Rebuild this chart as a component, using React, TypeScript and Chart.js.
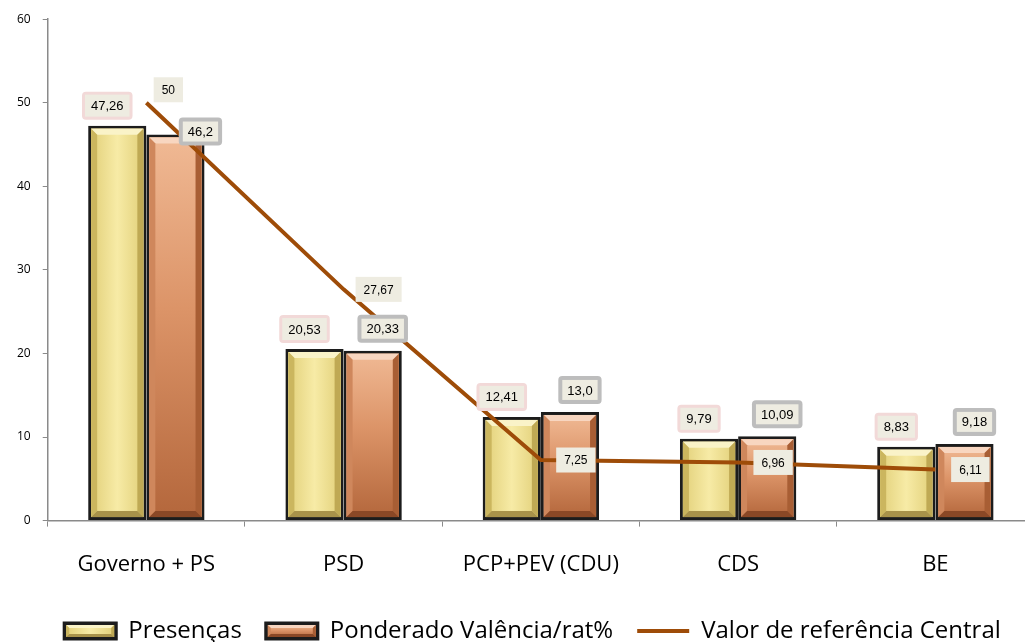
import React, { useEffect, useRef } from "react";
import { Chart, registerables } from "chart.js";

Chart.register(...registerables);

const categories = ["Governo + PS", "PSD", "PCP+PEV (CDU)", "CDS", "BE"];
const presencas = [47.26, 20.53, 12.41, 9.79, 8.83];
const ponderado = [46.2, 20.33, 13.0, 10.09, 9.18];
const referencia = [50, 27.67, 7.25, 6.96, 6.11];
const presencasLabels = ["47,26", "20,53", "12,41", "9,79", "8,83"];
const ponderadoLabels = ["46,2", "20,33", "13,0", "10,09", "9,18"];
const referenciaLabels = ["50", "27,67", "7,25", "6,96", "6,11"];
const seriesNames = ["Presenças", "Ponderado Valência/rat%", "Valor de referência Central"];

// small nudges (px) for labels that the original moved to avoid collisions: key "dataset-index"
const labelNudges: Record<string, [number, number]> = { "1-0": [15, 19], "2-0": [-13, -13] };

type Bevel = { face: (ctx: CanvasRenderingContext2D, l: number, t: number, r: number, b: number) => CanvasGradient | string; top: string; left: string; right: string; bottom: string };

const bevels: Bevel[] = [
  {
    face: (ctx, l, t, r) => {
      const g = ctx.createLinearGradient(l, 0, r, 0);
      g.addColorStop(0, "#e2d07a");
      g.addColorStop(0.5, "#f7eba6");
      g.addColorStop(1, "#e2d07a");
      return g;
    },
    top: "#faf3c8",
    left: "#cbb65e",
    right: "#bfa954",
    bottom: "#a8924a",
  },
  {
    face: (ctx, l, t, r, b) => {
      const g = ctx.createLinearGradient(0, t, 0, b);
      g.addColorStop(0, "#f0b994");
      g.addColorStop(0.45, "#dc9468");
      g.addColorStop(1, "#b4673c");
      return g;
    },
    top: "#f8d6c0",
    left: "#cf875c",
    right: "#a85e34",
    bottom: "#8a4826",
  },
];

function drawBevel(ctx: CanvasRenderingContext2D, bv: Bevel, l: number, t: number, r: number, b: number, dMax: number) {
  const d = Math.min(dMax, (b - t) / 3);
  ctx.fillStyle = bv.face(ctx, l, t, r, b);
  ctx.fillRect(l, t, r - l, b - t);
  const poly = (pts: number[][], c: string) => {
    ctx.beginPath();
    ctx.moveTo(pts[0][0], pts[0][1]);
    for (let i = 1; i < pts.length; i++) ctx.lineTo(pts[i][0], pts[i][1]);
    ctx.closePath();
    ctx.fillStyle = c;
    ctx.fill();
  };
  poly([[l, t], [r, t], [r - d, t + d], [l + d, t + d]], bv.top);
  poly([[l, t], [l + d, t + d], [l + d, b - d], [l, b]], bv.left);
  poly([[r, t], [r, b], [r - d, b - d], [r - d, t + d]], bv.right);
  poly([[l, b], [l + d, b - d], [r - d, b - d], [r, b]], bv.bottom);
}

const barDecor = {
  id: "barDecor",
  afterLayout(chart: any) {
    const lg = chart.legend;
    if (lg) {
      lg.left += 13;
      lg.right += 13;
    }
  },
  afterDatasetDraw(chart: any, args: any) {
    const idx = args.index;
    if (idx > 1) return;
    const bv = bevels[idx];
    const ctx: CanvasRenderingContext2D = chart.ctx;
    const bw = 3;
    args.meta.data.forEach((el: any) => {
      const p = el.getProps(["x", "y", "base", "width"], true);
      ctx.save();
      drawBevel(ctx, bv, p.x - p.width / 2 + bw, p.y + bw, p.x + p.width / 2 - bw, p.base - bw, 6);
      ctx.restore();
    });
  },
  afterDraw(chart: any) {
    const lg = chart.legend;
    if (!lg || !lg.legendHitBoxes) return;
    const ctx: CanvasRenderingContext2D = chart.ctx;
    const fs = 24;
    for (let i = 0; i < 2; i++) {
      const hb = lg.legendHitBoxes[i];
      const cy = hb.top + fs / 2;
      const l = hb.left, w = 52, h = 16, t = cy - h / 2;
      ctx.save();
      ctx.fillStyle = "#1c1c1c";
      ctx.fillRect(l - 1, t - 1, w + 2, h + 2);
      drawBevel(ctx, bevels[i], l + 2, t + 2, l + w - 2, t + h - 2, 3);
      ctx.restore();
    }
  },
};

function roundRect(ctx: CanvasRenderingContext2D, x: number, y: number, w: number, h: number, rad: number) {
  ctx.beginPath();
  ctx.moveTo(x + rad, y);
  ctx.lineTo(x + w - rad, y);
  ctx.quadraticCurveTo(x + w, y, x + w, y + rad);
  ctx.lineTo(x + w, y + h - rad);
  ctx.quadraticCurveTo(x + w, y + h, x + w - rad, y + h);
  ctx.lineTo(x + rad, y + h);
  ctx.quadraticCurveTo(x, y + h, x, y + h - rad);
  ctx.lineTo(x, y + rad);
  ctx.quadraticCurveTo(x, y, x + rad, y);
  ctx.closePath();
}

const valueLabels = {
  id: "valueLabels",
  afterDraw(chart: any) {
    const ctx: CanvasRenderingContext2D = chart.ctx;
    const texts = [presencasLabels, ponderadoLabels, referenciaLabels];
    const borders = ["#f2d9d8", "#bdbdbd", null];
    ctx.save();
    ctx.textAlign = "center";
    ctx.textBaseline = "middle";
    for (let ds = 0; ds < 3; ds++) {
      const meta = chart.getDatasetMeta(ds);
      meta.data.forEach((el: any, i: number) => {
        const p = el.getProps(["x", "y"], true);
        const txt = texts[ds][i];
        const fontSize = ds === 2 ? 12 : 13;
        ctx.font = `${fontSize}px "Liberation Sans", Arial, sans-serif`;
        const tw = ctx.measureText(txt).width;
        let w: number, h: number, cx: number, cy: number;
        if (ds === 2) {
          w = tw + 16;
          h = 25;
          cx = p.x + 35;
          cy = p.y;
        } else {
          w = tw + 18;
          h = 28;
          cx = ds === 0 ? p.x - 10 : p.x + 10;
          cy = p.y - (ds === 0 ? 6 : 8) - h / 2;
        }
        const n = labelNudges[`${ds}-${i}`];
        if (n) {
          cx += n[0];
          cy += n[1];
        }
        const x = cx - w / 2;
        const y = cy - h / 2;
        const border = borders[ds];
        if (border) {
          const lw = ds === 0 ? 3 : 4;
          roundRect(ctx, x, y, w, h, 4);
          ctx.fillStyle = border;
          ctx.fill();
          ctx.fillStyle = "#eeece1";
          ctx.fillRect(x + lw, y + lw, w - 2 * lw, h - 2 * lw);
        } else {
          ctx.fillStyle = "#eeece1";
          ctx.fillRect(x, y, w, h);
        }
        ctx.fillStyle = "#000";
        ctx.fillText(txt, cx, cy + 1);
      });
    }
    ctx.restore();
  },
};

export default function App() {
  const ref = useRef<HTMLCanvasElement>(null);
  useEffect(() => {
    document.body.style.margin = "0";
    const canvas = ref.current!;
    const chart = new Chart(canvas, {
      type: "bar",
      data: {
        labels: categories,
        datasets: [
          {
            label: seriesNames[0],
            data: presencas,
            backgroundColor: "#ecdc8c",
            borderColor: "#1c1c1c",
            borderWidth: 3,
            borderSkipped: false,
            barPercentage: 1,
            categoryPercentage: 0.59,
            order: 2,
          },
          {
            label: seriesNames[1],
            data: ponderado,
            backgroundColor: "#d88c60",
            borderColor: "#1c1c1c",
            borderWidth: 3,
            borderSkipped: false,
            barPercentage: 1,
            categoryPercentage: 0.59,
            order: 2,
          },
          {
            type: "line",
            label: seriesNames[2],
            data: referencia,
            borderColor: "#9e4c08",
            backgroundColor: "#9e4c08",
            borderWidth: 4,
            pointRadius: 0,
            tension: 0,
            order: 1,
          } as any,
        ],
      },
      options: {
        responsive: false,
        animation: false,
        layout: { padding: { left: 5, right: 6, top: 14, bottom: 0 } },
        plugins: {
          tooltip: { enabled: false },
          legend: {
            position: "bottom",
            labels: {
              color: "#000",
              font: { family: '"Open Sans", sans-serif', size: 24 },
              usePointStyle: true,
              pointStyleWidth: 52,
              boxHeight: 16,
              padding: 24,
              generateLabels: (ch: any) =>
                ch.data.datasets.map((ds: any, i: number) => ({
                  text: ds.label,
                  fillStyle: i === 0 ? "#ecdc8c" : i === 1 ? "#d88c60" : "#9e4c08",
                  strokeStyle: i === 2 ? "#9e4c08" : "#1c1c1c",
                  lineWidth: i === 2 ? 4 : 3,
                  pointStyle: i === 2 ? "line" : "rect",
                  fontColor: "#000",
                  datasetIndex: i,
                  hidden: false,
                })),
            },
          },
        },
        scales: {
          x: {
            grid: { display: true, drawOnChartArea: false, tickLength: 6, color: "#8a8a8a", offset: true },
            border: { color: "#8a8a8a", width: 1.5 },
            ticks: { color: "#000", font: { family: '"Open Sans", sans-serif', size: 22 }, padding: 25 },
            afterFit: (scale: any) => {
              scale.height -= 8;
            },
          },
          y: {
            min: 0,
            max: 60,
            grid: { display: true, drawOnChartArea: false, tickLength: 5, color: "#8a8a8a" },
            border: { color: "#8a8a8a", width: 1.5 },
            ticks: { stepSize: 10, color: "#000", font: { family: '"Open Sans", sans-serif', size: 12 }, padding: 12 },
          },
        },
      },
      plugins: [barDecor, valueLabels],
    });
    return () => chart.destroy();
  }, []);
  return (
    <div style={{ width: 1025, height: 642, overflow: "hidden", position: "relative" }}>
      <canvas ref={ref} width={1040} height={653} style={{ display: "block" }} />
    </div>
  );
}
